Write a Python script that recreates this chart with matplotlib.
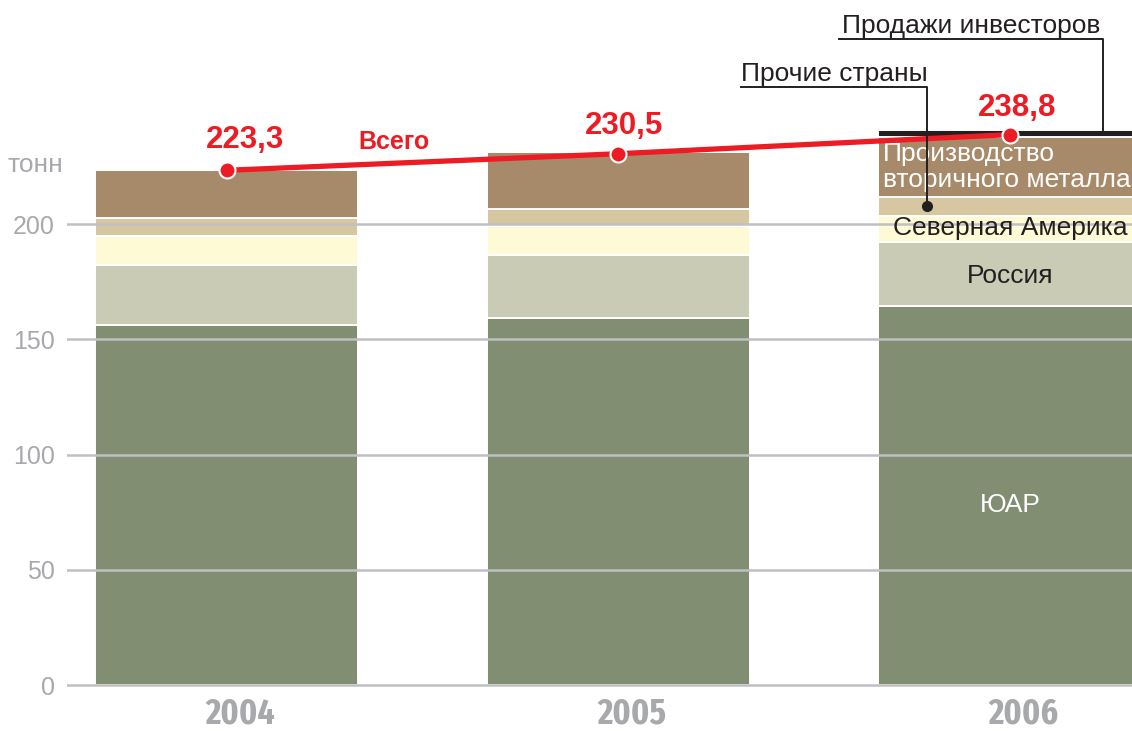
import numpy as np
import matplotlib
matplotlib.use("Agg")
import matplotlib.pyplot as plt
from matplotlib import font_manager as fm

plt.rcParams['font.family'] = ['Liberation Sans', 'DejaVu Sans']

# данные, тонн
years = ['2004', '2005', '2006']
yuar = [156.4, 159.2, 164.4]        # ЮАР
russia = [25.8, 27.4, 28.0]         # Россия
n_america = [12.7, 12.7, 11.1]      # Северная Америка
others = [7.5, 7.2, 8.3]            # Прочие страны
secondary = [20.9, 24.9, 26.0]      # Производство вторичного металла
investors = [0.0, 0.0, 3.0]         # Продажи инвесторов
totals = [223.3, 230.5, 238.8]
total_labels = ['223,3', '230,5', '238,8']
yticks = [0, 50, 100, 150, 200]

series = [yuar, russia, n_america, others, secondary, investors]
colors = ['#828e72', '#c9cbb5', '#fefad6', '#d6c7a0', '#a78a6a', '#231f20']

RED = '#ed1c24'
GREY = '#a7a9ac'
GRID = '#bfc0c4'
DARK = '#231f20'


def narrow_bold():
    """ищем узкий жирный шрифт для подписей годов"""
    best = None
    for f in fm.fontManager.ttflist:
        fn = f.fname.lower()
        name = f.name.lower()
        narrow = 'narrow' in name or 'condensed' in fn or 'narrow' in fn
        bold = str(f.weight).lower() in ('700', 'bold') and 'italic' not in fn
        if not (narrow and bold):
            continue
        score = 1
        if 'extra' in fn:
            score = 0
        elif 'semi' in fn:
            score = 2
        if best is None or score < best[0]:
            best = (score, f.fname)
    if best:
        return fm.FontProperties(fname=best[1])
    return fm.FontProperties(family='DejaVu Sans', weight='bold')


W, H = 1132, 731
fig = plt.figure(figsize=(W / 100, H / 100), dpi=100)
# ось чуть ниже нуля, чтобы нулевая линия не обрезалась
ax = fig.add_axes([67 / W, 36 / H, (W - 67) / W, 695 / H])

x = np.arange(len(years))
bottom = np.zeros(len(years))
for vals, c in zip(series, colors):
    vals = np.array(vals)
    ax.bar(x, vals, width=0.672, bottom=bottom, color=c,
           edgecolor='white', linewidth=1.4, zorder=1)
    bottom += vals

ax.set_xlim(-0.4078, 2.3118)
ax.set_ylim(-10 / 2.305, 297.2)

# сетка поверх столбцов
ax.set_yticks(yticks)
ax.set_yticklabels([str(t) for t in yticks])
ax.set_xticks([])
ax.yaxis.grid(True, color=GRID, linewidth=1.8)
ax.set_axisbelow(False)
ax.tick_params(axis='y', length=0, pad=8.6, labelsize=18, labelcolor=GREY)
for s in ax.spines.values():
    s.set_visible(False)

fig.text(8 / W, 1 - 172 / H, 'тонн', fontsize=19, color=GREY,
         ha='left', va='baseline')

# годы
fp_year = narrow_bold()
fp_year.set_size(26)
for xi, yr in zip(x, years):
    ax.annotate(yr, (xi, 0), xytext=(10, -27.5), textcoords='offset points',
                ha='center', va='baseline', fontproperties=fp_year,
                color=GREY, annotation_clip=False)

# линия "Всего"
ax.plot(x, totals, color=RED, linewidth=3.8, zorder=4,
        marker='o', markersize=11.5, markerfacecolor=RED,
        markeredgecolor='white', markeredgewidth=1.5, clip_on=False)
offsets = [(13, 16), (4.3, 14.4), (5.4, 13.7)]
for xi, t, lab, off in zip(x, totals, total_labels, offsets):
    ax.annotate(lab, (xi, t), xytext=off, textcoords='offset points',
                ha='center', va='baseline', fontsize=22.5, fontweight='bold',
                color=RED)
ax.text(0.4285, 232.5, 'Всего', ha='center', va='baseline', fontsize=18,
        fontweight='bold', color=RED)

# подписи внутри столбца 2006
cum = np.cumsum(np.array(series), axis=0)
ax.text(2, 75.0, 'ЮАР', ha='center', va='baseline', fontsize=19, color='white')
ax.text(2, 174.4, 'Россия', ha='center', va='baseline', fontsize=19, color=DARK)
ax.text(2, 195.2, 'Северная Америка', ha='center', va='baseline',
        fontsize=19, color=DARK, zorder=5)
ax.text(1.676, 227.3, 'Производство', ha='left', va='baseline',
        fontsize=19, color='white')
ax.text(1.676, 216.05, 'вторичного металла', ha='left', va='baseline',
        fontsize=19, color='white')

# выноски
inv_top = cum[5][2]
ax.plot([1.5636, 2.2378, 2.2378], [280.3, 280.3, inv_top], color=DARK,
        linewidth=1.4, zorder=5, clip_on=False)
ax.text(1.5713, 282.9, 'Продажи инвесторов', ha='left', va='baseline',
        fontsize=19, color=DARK)

oth_mid = cum[2][2] + others[2] / 2
ax.plot([1.3133, 1.788, 1.788], [259.3, 259.3, oth_mid], color=DARK,
        linewidth=1.4, zorder=5)
ax.plot([1.788], [oth_mid], 'o', color=DARK, markersize=7, zorder=5)
ax.text(1.3133, 262.0, 'Прочие страны', ha='left', va='baseline',
        fontsize=19, color=DARK)

fig.savefig('out.png', dpi=100)
